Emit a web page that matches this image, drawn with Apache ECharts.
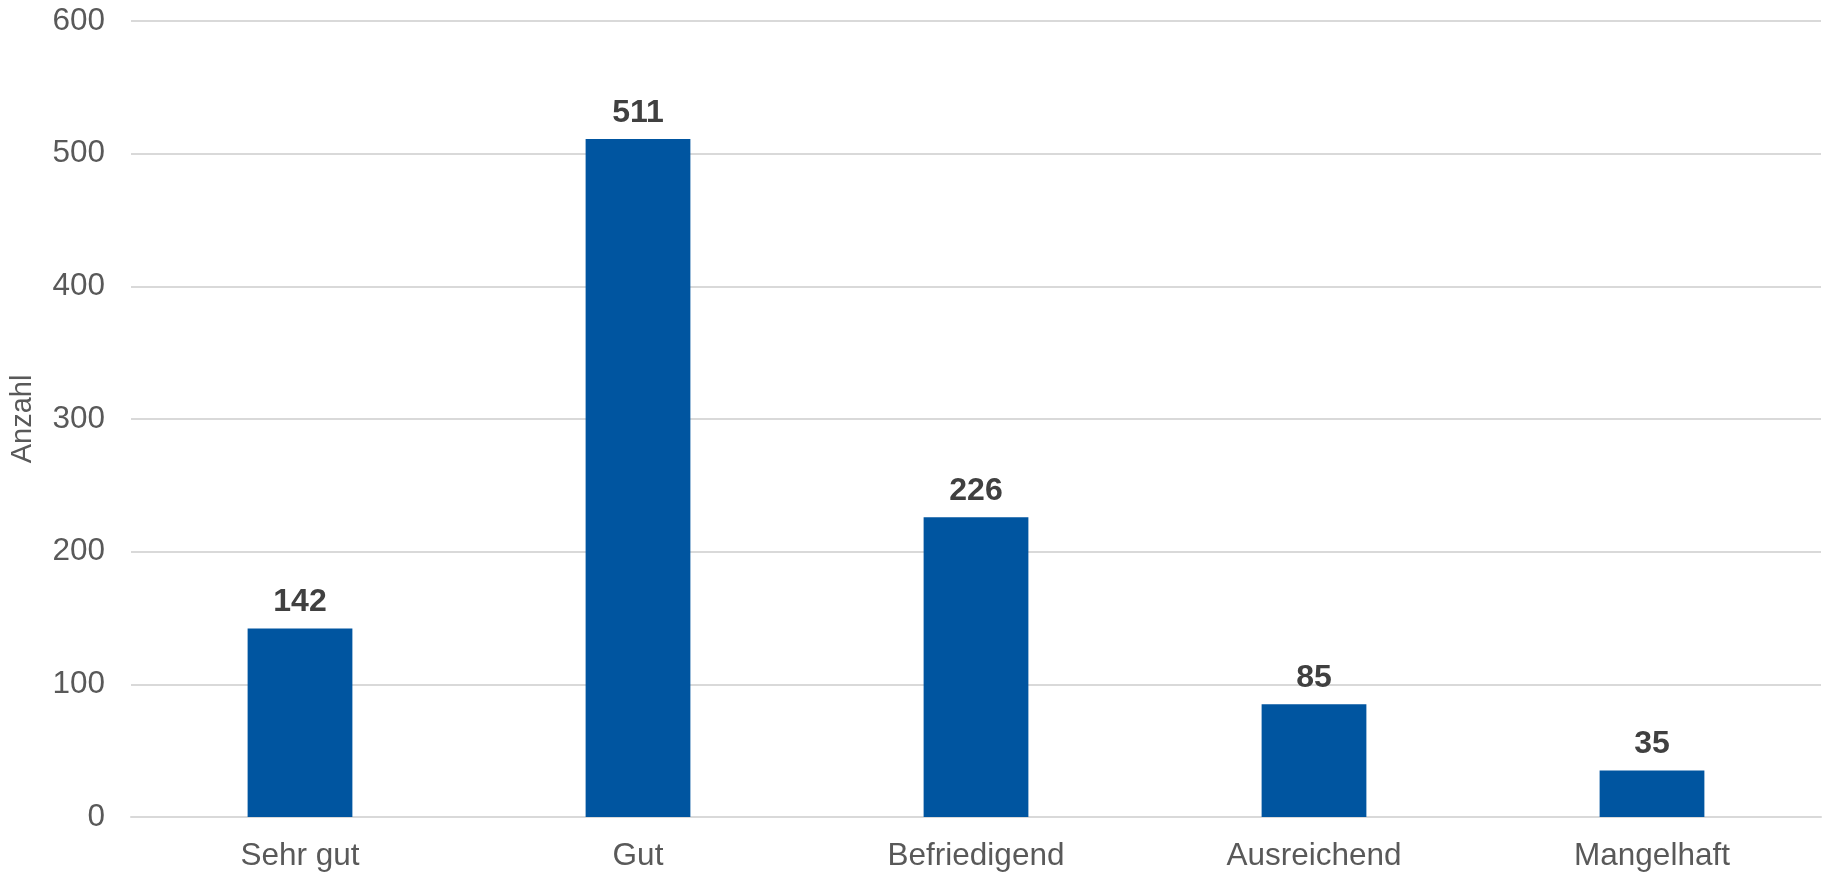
<!DOCTYPE html>
<html>
<head>
<meta charset="utf-8">
<script src="https://cdn.jsdelivr.net/npm/echarts@6/dist/echarts.min.js"></script>
<style>
    html, body { margin: 0; padding: 0; background: #fff; }
    #chart { width: 1829px; height: 875px; }
</style>
</head>
<body>
<div id="chart"></div>
<script>
// Noten und Anzahl
var categories = ['Sehr gut', 'Gut', 'Befriedigend', 'Ausreichend', 'Mangelhaft'];
var counts = [142, 511, 226, 85, 35];
var yTicks = [0, 100, 200, 300, 400, 500, 600];

var chart = echarts.init(document.getElementById('chart'));

var option = {
    animation: false,
    textStyle: { fontFamily: 'Liberation Sans, Arial, sans-serif' },
    grid: { left: 122, right: 8, top: 21, bottom: 58 },
    xAxis: {
        type: 'category',
        data: categories,
        axisTick: { show: false },
        axisLine: { lineStyle: { color: '#d9d9d9', width: 2 } },
        axisLabel: { color: '#595959', fontSize: 31.5, margin: 23 }
    },
    yAxis: {
        type: 'value',
        name: 'Anzahl',
        nameLocation: 'middle',
        nameGap: 94,
        nameRotate: 90,
        nameTextStyle: { color: '#595959', fontSize: 29 },
        min: yTicks[0],
        max: yTicks[yTicks.length - 1],
        interval: 100,
        axisLine: { show: false },
        axisTick: { show: false },
        axisLabel: { color: '#595959', fontSize: 31.5, margin: 26 },
        splitLine: { lineStyle: { color: '#d9d9d9', width: 2 } }
    },
    series: [{
        type: 'bar',
        data: counts,
        barWidth: '31%',
        itemStyle: { color: '#0055A0' },
        label: {
            show: true,
            position: 'top',
            distance: 10,
            color: '#404040',
            fontSize: 32,
            fontWeight: 'bold'
        }
    }]
};

chart.setOption(option);
</script>
</body>
</html>
